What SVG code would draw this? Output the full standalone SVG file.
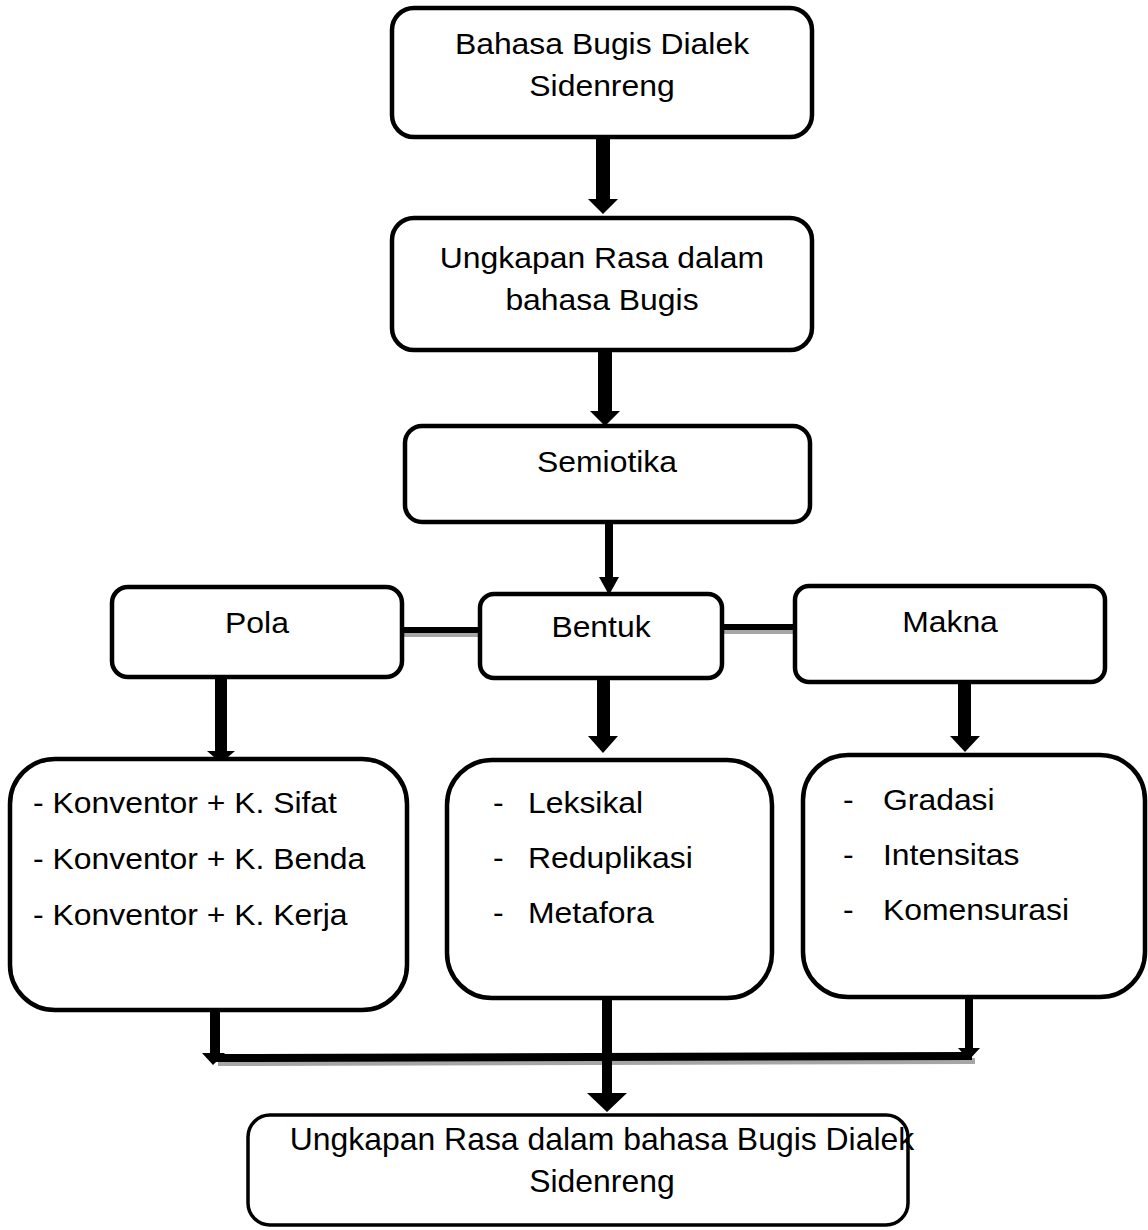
<svg xmlns="http://www.w3.org/2000/svg" width="1148" height="1230" viewBox="0 0 1148 1230">
<style>
.box{fill:#fff;stroke:#000;stroke-width:4.5}
.t{font-family:"Liberation Sans",Arial,sans-serif;font-size:29px;fill:#000}
.c{text-anchor:middle}
.arr{fill:#000}
.sh{fill:#a6a6a6}
</style>
<rect width="1148" height="1230" fill="#fff"/>
<g id="connectors">
<path class="arr" d="M596,137 H610 V199 H618 L603,214 L588,199 H596 Z"/>
<path class="arr" d="M598,350 H612 V411 H620 L605,426 L590,411 H598 Z"/>
<path class="arr" d="M605,522 H613 V577 H619 L609,595 L599,577 H605 Z"/>
<rect class="sh" x="404" y="632" width="76" height="5"/>
<rect class="arr" x="402" y="627" width="78" height="6"/>
<rect class="sh" x="724" y="629" width="71" height="5"/>
<rect class="arr" x="722" y="624" width="73" height="6"/>
<path class="arr" d="M215,677 H227 V751 H235 L221,763 L207,751 H215 Z"/>
<path class="arr" d="M597,678 H610 V736 H618 L603,753 L588,736 H597 Z"/>
<path class="arr" d="M958,682 H971 V736 H980 L965,752 L950,736 H958 Z"/>
<path class="sh" d="M218,1060 L975,1058 L975,1064 L218,1066 Z"/>
<path class="arr" d="M215,1054 L972,1052 L972,1060 L215,1062 Z"/>
<path class="arr" d="M210,1010 H220 V1053 H225 L213,1065 L202,1053 H210 Z"/>
<path class="arr" d="M965,997 H973 V1048 H980 L969,1060 L958,1048 H965 Z"/>
<path class="arr" d="M602,998 H612 V1093 H627 L607,1112 L587,1093 H602 Z"/>
</g>
<g id="n1">
<rect class="box" x="392" y="8" width="420" height="129" rx="22"/>
<text class="t c" transform="translate(602,54) scale(1.1 1)">Bahasa Bugis Dialek</text>
<text class="t c" transform="translate(602,96) scale(1.1 1)">Sidenreng</text>
</g>
<g id="n2">
<rect class="box" x="392" y="218" width="420" height="132" rx="22"/>
<text class="t c" transform="translate(602,268) scale(1.1 1)">Ungkapan Rasa dalam</text>
<text class="t c" transform="translate(602,310) scale(1.1 1)">bahasa Bugis</text>
</g>
<g id="n3">
<rect class="box" x="405" y="426" width="405" height="96" rx="17"/>
<text class="t c" transform="translate(607,472) scale(1.1 1)">Semiotika</text>
</g>
<g id="pola">
<rect class="box" x="112" y="587" width="290" height="90" rx="16"/>
<text class="t c" transform="translate(257,633) scale(1.1 1)">Pola</text>
</g>
<g id="bentuk">
<rect class="box" x="480" y="594" width="242" height="84" rx="14"/>
<text class="t c" transform="translate(601,637) scale(1.1 1)">Bentuk</text>
</g>
<g id="makna">
<rect class="box" x="795" y="586" width="310" height="96" rx="14"/>
<text class="t c" transform="translate(950,632) scale(1.1 1)">Makna</text>
</g>
<g id="list-pola">
<rect class="box" x="10" y="759" width="397" height="251" rx="45"/>
<text class="t" transform="translate(33,813) scale(1.1 1)">- Konventor + K. Sifat</text>
<text class="t" transform="translate(33,869) scale(1.1 1)">- Konventor + K. Benda</text>
<text class="t" transform="translate(33,925) scale(1.1 1)">- Konventor + K. Kerja</text>
</g>
<g id="list-bentuk">
<rect class="box" x="447" y="760" width="325" height="238" rx="45"/>
<text class="t" transform="translate(493,813) scale(1.1 1)">-</text>
<text class="t" transform="translate(528,813) scale(1.1 1)">Leksikal</text>
<text class="t" transform="translate(493,868) scale(1.1 1)">-</text>
<text class="t" transform="translate(528,868) scale(1.1 1)">Reduplikasi</text>
<text class="t" transform="translate(493,923) scale(1.1 1)">-</text>
<text class="t" transform="translate(528,923) scale(1.1 1)">Metafora</text>
</g>
<g id="list-makna">
<rect class="box" x="803" y="755" width="342" height="242" rx="45"/>
<text class="t" transform="translate(843,810) scale(1.1 1)">-</text>
<text class="t" transform="translate(883,810) scale(1.1 1)">Gradasi</text>
<text class="t" transform="translate(843,865) scale(1.1 1)">-</text>
<text class="t" transform="translate(883,865) scale(1.1 1)">Intensitas</text>
<text class="t" transform="translate(843,920) scale(1.1 1)">-</text>
<text class="t" transform="translate(883,920) scale(1.1 1)">Komensurasi</text>
</g>
<g id="final">
<rect class="box" x="248" y="1115" width="660" height="110" rx="22" style="stroke-width:3.5"/>
<text class="t c" style="font-size:31px" transform="translate(602,1150) scale(1.03 1)">Ungkapan Rasa dalam bahasa Bugis Dialek</text>
<text class="t c" style="font-size:31px" transform="translate(602,1192) scale(1.03 1)">Sidenreng</text>
</g>
</svg>
